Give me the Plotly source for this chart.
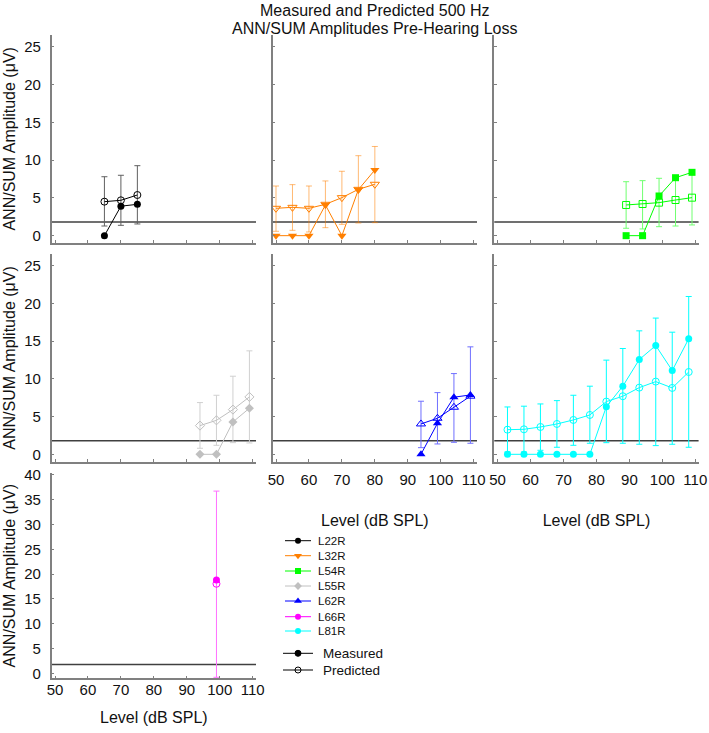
import plotly.graph_objects as go

W, H = 709, 733
FONT = "Arial, Liberation Sans, sans-serif"

# ---------------- data ----------------
subjects = ["L22R", "L32R", "L54R", "L55R", "L62R", "L66R", "L81R"]
colors = ["#000000", "#FF7F00", "#00FF00", "#C0C0C0", "#0000FF", "#FF00FF", "#00FFFF"]
err_colors = ["#606060", "rgba(255,127,0,0.55)", "#70FF70", "#D0D0D0", "#6F6FFF", "#FF70FF", "#00FFFF"]
symbols = ["circle", "triangle-down", "square", "diamond", "triangle-up", "circle", "circle"]

L22R_level = [65, 70, 75]
L22R_meas = [0.0, 3.9, 4.15]
L22R_pred = [4.5, 4.68, 5.38]
L22R_top = [7.8, 7.99, 9.26]
L22R_bot = [1.28, 1.37, 1.55]

L32R_level = [50, 55, 60, 65, 70, 75, 80]
L32R_meas = [0.0, 0.0, 0.0, 4.06, 0.0, 6.09, 8.69]
L32R_pred = [3.62, 3.75, 3.62, 4.15, 5.03, 6.13, 6.8]
L32R_top = [6.57, 6.75, 6.57, 7.24, 8.52, 10.58, 11.8]
L32R_bot = [0.58, 0.71, 0.49, 1.06, 1.5, 1.68, 1.72]

L54R_level = [89, 94, 99, 104, 109]
L54R_meas = [0.0, 0.0, 5.25, 7.67, 8.38]
L54R_pred = [4.06, 4.19, 4.37, 4.72, 5.03]
L54R_top = [7.14, 7.28, 7.59, 7.7, 8.4]
L54R_bot = [0.98, 0.89, 1.19, 1.28, 1.42]

L55R_level = [94, 99, 104, 109]
L55R_meas = [0.0, 0.0, 4.28, 6.1]
L55R_pred = [3.8, 4.5, 5.92, 7.6]
L55R_top = [6.85, 7.82, 10.34, 13.7]
L55R_bot = [0.8, 1.19, 1.54, 1.5]

L62R_level = [94, 99, 104, 109]
L62R_meas = [0.0, 4.1, 7.56, 7.86]
L62R_pred = [4.02, 4.77, 6.23, 7.7]
L62R_top = [7.03, 8.17, 10.69, 14.23]
L62R_bot = [0.88, 1.37, 1.59, 1.46]

L66R_level = [99]
L66R_meas = [18.8]
L66R_pred = [18.06]
L66R_top = [36.75]
L66R_bot = [-0.8]

L81R_level = [53, 58, 63, 68, 73, 78, 83, 88, 93, 98, 103, 108]
L81R_meas = [0, 0, 0, 0, 0, 0, 6.31, 9.02, 12.55, 14.4, 11.09, 15.3]
L81R_pred = [3.26, 3.31, 3.62, 4.02, 4.55, 5.21, 6.98, 7.69, 8.83, 9.63, 8.79, 10.9]
L81R_top = [6.27, 6.37, 6.67, 7.11, 7.82, 9.02, 12.47, 14.01, 16.35, 18.04, 16.17, 20.9]
L81R_bot = [0.3, 0.3, 0.53, 0.93, 1.19, 1.46, 1.54, 1.46, 1.33, 1.15, 1.33, 0.93]

THRESHOLD = 1.8

x_ticks = [50, 60, 70, 80, 90, 100, 110]
title_lines = ["Measured and Predicted 500 Hz", "ANN/SUM Amplitudes Pre-Hearing Loss"]
y_title = "ANN/SUM Amplitude (\u03bcV)"
x_title = "Level (dB SPL)"

data = {
    "L22R": (L22R_level, L22R_meas, L22R_pred, L22R_top, L22R_bot),
    "L32R": (L32R_level, L32R_meas, L32R_pred, L32R_top, L32R_bot),
    "L54R": (L54R_level, L54R_meas, L54R_pred, L54R_top, L54R_bot),
    "L55R": (L55R_level, L55R_meas, L55R_pred, L55R_top, L55R_bot),
    "L62R": (L62R_level, L62R_meas, L62R_pred, L62R_top, L62R_bot),
    "L66R": (L66R_level, L66R_meas, L66R_pred, L66R_top, L66R_bot),
    "L81R": (L81R_level, L81R_meas, L81R_pred, L81R_top, L81R_bot),
}

# ---------------- layout geometry (pixels) ----------------
col_px = [(51.7, 256.0), (272.7, 477.0), (494.3, 698.6)]
row_px = [(35.0, 242.7), (254.2, 461.7), (473.0, 678.3)]
row_yrange = [[-0.93, 26.55], [-0.98, 26.5], [-1.0, 40.4]]
row_xlab_standoff = [4, 4, -3]
row_xtitle_standoff = [20, 27, 15]
XRANGE = [49, 111]

panel_of = {"L22R": (0, 0), "L32R": (0, 1), "L54R": (0, 2),
            "L55R": (1, 0), "L62R": (1, 1), "L81R": (1, 2),
            "L66R": (2, 0)}
xlabels_on = {"L62R", "L81R", "L66R"}

def xd(a, b):
    return [a / W, b / W]

def yd(top, bot):
    return [1 - bot / H, 1 - top / H]

fig = go.Figure()
layout = dict(width=W, height=H, autosize=False, template="none",
              margin=dict(l=0, r=0, t=0, b=0, autoexpand=False),
              paper_bgcolor="white", plot_bgcolor="white",
              showlegend=False, font=dict(family=FONT, size=14, color="#111"))
shapes = []
annotations = []

AX_COL = "#808080"
TXT = "#111"

for i, name in enumerate(subjects):
    r, c = panel_of[name]
    n = i + 1
    xa = "xaxis" if n == 1 else f"xaxis{n}"
    ya = "yaxis" if n == 1 else f"yaxis{n}"
    xr = "x" if n == 1 else f"x{n}"
    yr = "y" if n == 1 else f"y{n}"
    layout[xa] = dict(domain=xd(*col_px[c]), range=XRANGE, anchor=yr, automargin=False,
                      showline=True, linecolor=AX_COL, linewidth=1.5,
                      ticks="inside", ticklen=3, tickcolor=AX_COL, tickwidth=1,
                      tickvals=x_ticks, showticklabels=name in xlabels_on,
                      ticklabelstandoff=row_xlab_standoff[r],
                      tickfont=dict(size=15, family=FONT, color=TXT),
                      showgrid=False, zeroline=False,
                      title=dict(text=x_title if name in xlabels_on else "",
                                 font=dict(size=16, family=FONT, color=TXT),
                                 standoff=row_xtitle_standoff[r]))
    layout[ya] = dict(domain=yd(*row_px[r]), range=row_yrange[r], anchor=xr, automargin=False,
                      showline=True, linecolor=AX_COL, linewidth=1.5,
                      ticks="inside", ticklen=3, tickcolor=AX_COL, tickwidth=1,
                      dtick=5, tick0=0, showticklabels=(c == 0),
                      ticklabelstandoff=6,
                      tickfont=dict(size=15, family=FONT, color=TXT),
                      showgrid=False, zeroline=False,
                      title=dict(text=y_title if c == 0 else "",
                                 font=dict(size=16, family=FONT, color=TXT),
                                 standoff=5))
    shapes.append(dict(type="line", xref=f"{xr} domain", yref=yr,
                       x0=0, x1=1, y0=THRESHOLD, y1=THRESHOLD,
                       line=dict(color="#404040", width=1.5), layer="below"))

    lev, meas, pred, top, bot = data[name]
    col = colors[i]
    sym = symbols[i]
    msize = 8 if "triangle" in sym else 7
    fig.add_trace(go.Scatter(
        x=lev, y=pred, xaxis=xr, yaxis=yr, mode="lines+markers",
        line=dict(color=col, width=1),
        marker=dict(symbol=sym + "-open", size=msize, color=col, line=dict(width=1, color=col)),
        error_y=dict(type="data", symmetric=False,
                     array=[t - p for t, p in zip(top, pred)],
                     arrayminus=[p - b for p, b in zip(pred, bot)],
                     color=err_colors[i], thickness=1, width=3),
        cliponaxis=False))
    fig.add_trace(go.Scatter(
        x=lev, y=meas, xaxis=xr, yaxis=yr, mode="lines+markers",
        line=dict(color=col, width=1),
        marker=dict(symbol=sym, size=msize, color=col, line=dict(width=0)),
        cliponaxis=False))

# ---------------- manual legend ----------------
leg_x0, leg_x1 = 270.0, 440.0
leg_y0, leg_y1 = 530.0, 690.0
layout["xaxis8"] = dict(domain=xd(leg_x0, leg_x1), range=[leg_x0, leg_x1], anchor="y8",
                        visible=False, fixedrange=True, automargin=False)
layout["yaxis8"] = dict(domain=yd(leg_y0, leg_y1), range=[leg_y1, leg_y0], anchor="x8",
                        visible=False, fixedrange=True, automargin=False)
leg_rows = [540.7, 555.7, 571.0, 586.0, 601.0, 616.7, 631.0]
for i, name in enumerate(subjects):
    yy = leg_rows[i]
    fig.add_trace(go.Scatter(x=[285, 311], y=[yy, yy], xaxis="x8", yaxis="y8",
                             mode="lines", line=dict(color=colors[i], width=1),
                             hoverinfo="skip"))
    sym = symbols[i]
    fig.add_trace(go.Scatter(x=[298], y=[yy], xaxis="x8", yaxis="y8", mode="markers",
                             marker=dict(symbol=sym, size=7 if "triangle" in sym else 6,
                                         color=colors[i]), hoverinfo="skip"))
    annotations.append(dict(x=316, y=yy, xref="x8", yref="y8", text=name,
                            showarrow=False, xanchor="left", yanchor="middle",
                            font=dict(size=11.5, family=FONT, color=TXT)))
for label, yy, sym in [("Measured", 653.3, "circle"), ("Predicted", 670.0, "circle-open")]:
    fig.add_trace(go.Scatter(x=[283, 313], y=[yy, yy], xaxis="x8", yaxis="y8",
                             mode="lines", line=dict(color="#000", width=1), hoverinfo="skip"))
    fig.add_trace(go.Scatter(x=[298], y=[yy], xaxis="x8", yaxis="y8", mode="markers",
                             marker=dict(symbol=sym, size=6, color="#000",
                                         line=dict(width=1, color="#000")),
                             hoverinfo="skip"))
    annotations.append(dict(x=321, y=yy, xref="x8", yref="y8", text=label,
                            showarrow=False, xanchor="left", yanchor="middle",
                            font=dict(size=13.5, family=FONT, color=TXT)))

# ---------------- title ----------------
for txt, yy in zip(title_lines, [11.0, 28.0]):
    annotations.append(dict(x=375 / W, y=1 - yy / H, xref="paper", yref="paper",
                            text=txt, showarrow=False, xanchor="center", yanchor="middle",
                            font=dict(size=16, family=FONT, color=TXT)))

layout["shapes"] = shapes
layout["annotations"] = annotations
fig.update_layout(**layout)
fig.write_html("out.html", config={"displayModeBar": False},
               post_script="document.body.style.margin='0';document.body.style.overflow='hidden';")
